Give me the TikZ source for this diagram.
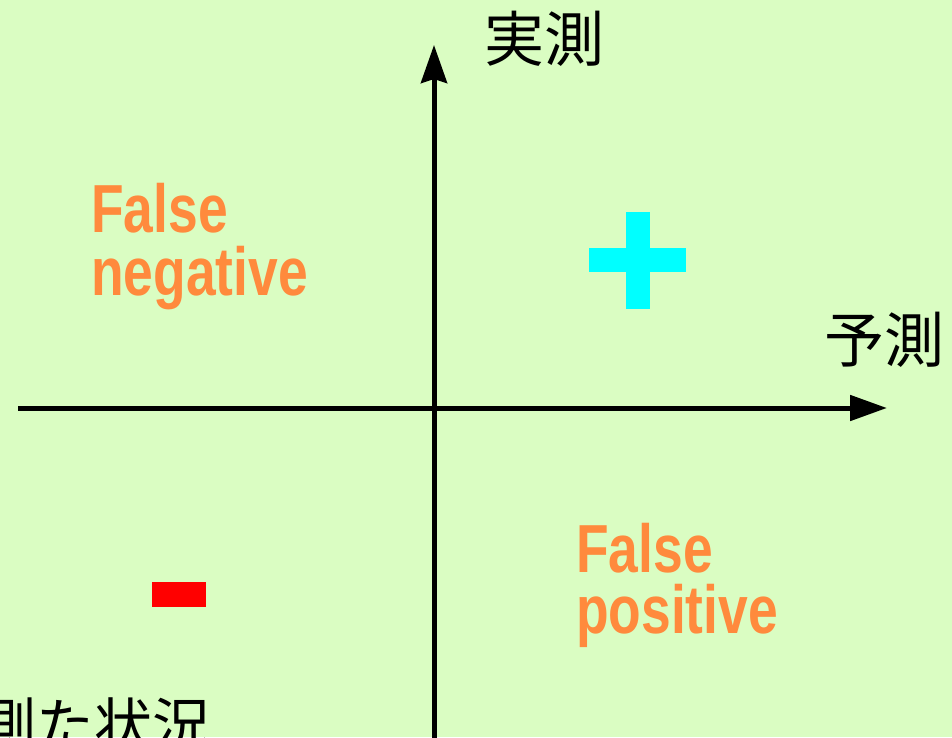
\documentclass[tikz,border=0pt]{standalone}
\usepackage{fontspec}
\setmainfont{Liberation Sans}
\newfontfamily\jpfont{Noto Sans CJK JP}
\usetikzlibrary{arrows.meta}
\definecolor{bgc}{HTML}{DAFDC2}
\definecolor{orng}{HTML}{FF8A3D}
\definecolor{plusc}{HTML}{00FFFF}
\definecolor{minusc}{HTML}{FF0000}
\tikzset{
  axis/.style={line width=5pt,black},
  jplabel/.style={anchor=base west,inner sep=0pt,font=\jpfont\fontsize{60}{60}\selectfont},
  falselabel/.style={anchor=base west,inner sep=0pt,text=orng,font=\bfseries\fontsize{68}{68}\selectfont},
  firstline/.style={text depth=0pt},
  secondline/.style={text height=44pt},
}
\newcommand{\sqz}[1]{\scalebox{0.785}[1]{#1}}
\begin{document}
\begin{tikzpicture}[x=1pt,y=-1pt]
\useasboundingbox (0,0) rectangle (952,737);
\clip (0,0) rectangle (952,737);
\fill[bgc] (0,0) rectangle (952,737);
% axes
\coordinate (vbot) at (434,745);
\coordinate (vtop) at (434,45);
\coordinate (hleft) at (18,408);
\coordinate (hright) at (887,408);
\draw[axis,-{Triangle[length=37pt,width=25pt]}] (hleft) -- (hright);
\draw[axis,-{Stealth[length=38pt,width=26pt,inset=4pt]}] (vbot) -- (vtop);
% axis labels
\node[jplabel] (jissoku) at (484,61) {実測};
\node[jplabel] (yosoku) at (824,362) {予測};
% plus and minus
\fill[plusc] (626,212) rectangle (650,309);
\fill[plusc] (589,248) rectangle (686,272);
\fill[minusc] (152,582) rectangle (206,607);
% false labels
\node[falselabel,firstline] (fn1) at (91,232) {\sqz{False}};
\node[falselabel,secondline] (fn2) at (91,295) {\sqz{negative}};
\node[falselabel,firstline] (fp1) at (576,572) {\sqz{False}};
\node[falselabel,secondline] (fp2) at (576,633) {\sqz{positive}};
% bottom text (clipped at the lower left edge, as in the reference)
\node[anchor=base west,inner sep=0pt,font=\jpfont\fontsize{58}{58}\selectfont] (bottom) at (-22,746) {測た状況};
\end{tikzpicture}
\end{document}
